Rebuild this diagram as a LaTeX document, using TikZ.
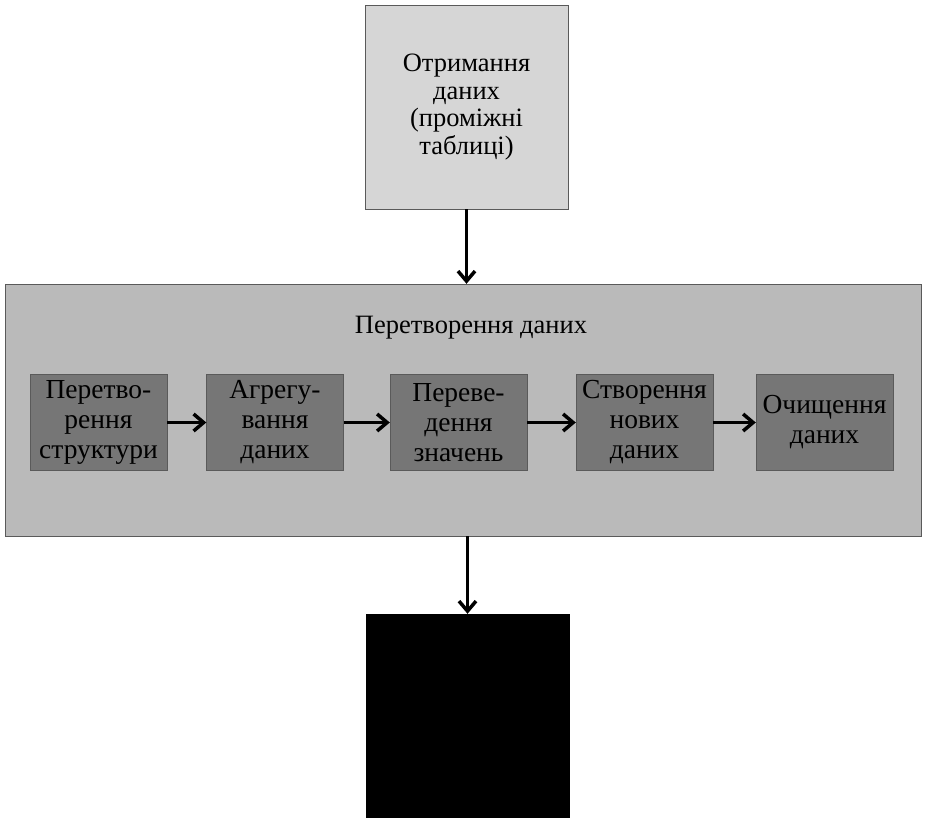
\documentclass[tikz,border=0pt]{standalone}
\usepackage{fontspec}
\setmainfont{Liberation Serif}
\usetikzlibrary{arrows.meta,positioning}
\definecolor{srcgray}{RGB}{214,214,214}
\definecolor{panelgray}{RGB}{186,186,186}
\definecolor{stagegray}{RGB}{118,118,118}
\definecolor{edgegray}{RGB}{90,90,90}

\begin{document}
\begin{tikzpicture}[x=1pt,y=-1pt,
  stage/.style={draw=edgegray, fill=stagegray, minimum width=137pt, minimum height=96pt,
    inner sep=1pt, align=center, font=\fontsize{27.5}{30}\selectfont},
  flow/.style={-{Straight Barb[length=10pt,width=17pt,line width=3.5pt]}, line width=3.5pt}]
\useasboundingbox (0,0) rectangle (926,819);
% Source of data
\node[draw=edgegray, fill=srcgray, minimum width=203pt, minimum height=204pt,
      align=center, font=\fontsize{26.5}{27.5}\selectfont]
      (source) at (466.5,107) {Отримання\\даних\\(проміжні\\таблиці)};
% Transformation panel
\node[draw=edgegray, fill=panelgray, minimum width=916pt, minimum height=252pt]
      (panel) at (463,410) {};
\node[font=\fontsize{26.5}{28}\selectfont] (title) at (471,328) {Перетворення даних};
% Stages
\node[stage] (restruct) at (98.5,422.5) {Перетво-\\рення\\структури};
\node[stage] (aggreg) at (275,422.5) {Агрегу-\\вання\\даних};
\node[stage] (convert) at (458.5,422.5) {Переве-\\дення\\значень};
\node[stage] (create) at (644.5,422.5) {Створення\\нових\\даних};
\node[stage] (clean) at (824.5,422.5) {Очищення\\даних};
% Result
\node[draw=black, fill=black, minimum width=203pt, minimum height=203pt]
      (result) at (467.5,715.5) {};
% Arrows
\draw[flow] (source.south) -- (source.south |- panel.north);
\draw[flow] (restruct) -- (aggreg);
\draw[flow] (aggreg) -- (convert);
\draw[flow] (convert) -- (create);
\draw[flow] (create) -- (clean);
\draw[flow] (panel.south -| result.north) -- (result.north);
\end{tikzpicture}
\end{document}
